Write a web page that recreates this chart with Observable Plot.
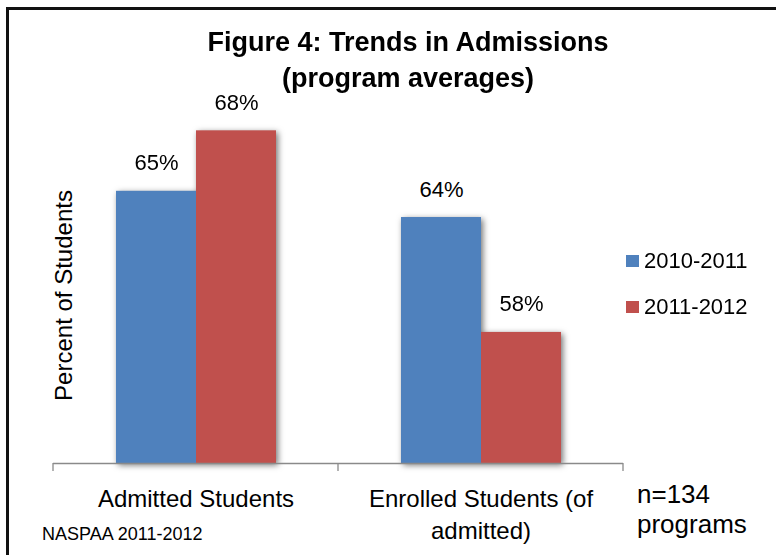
<!DOCTYPE html>
<html><head><meta charset="utf-8">
<script src="https://cdn.jsdelivr.net/npm/d3@7"></script>
<script src="https://cdn.jsdelivr.net/npm/@observablehq/plot@0.6"></script>
<style>
html,body{margin:0;padding:0;background:#fff;overflow:hidden;}
#wrap{position:relative;width:776px;height:555px;font-family:"Liberation Sans",Arial,sans-serif;color:#000;overflow:hidden;}
#wrap svg{position:absolute;left:0;top:0;}
.t{position:absolute;white-space:nowrap;}
#frame{position:absolute;left:6px;top:7px;width:820px;height:620px;border:3px solid #111;pointer-events:none;}
#title{left:0;top:24px;width:816px;text-align:center;font-weight:bold;font-size:27px;line-height:36px;}
.sw{position:absolute;width:13px;height:12px;}
.lg{font-size:22px;line-height:22px;}
#note{left:637px;top:479px;font-size:26px;line-height:30px;}
#src{left:42px;top:525px;font-size:18px;line-height:18px;}
</style></head><body>
<div id="wrap"></div>
<script>
// ---- data ----
const categories = ["Admitted Students", "Enrolled Students (of admitted)"];
const categoryLabels = ["Admitted Students", "Enrolled Students (of\nadmitted)"];
const series = ["2010-2011", "2011-2012"];
const values2010 = [65.0, 63.7];
const values2011 = [68.0, 58.0];
const colors = ["#4F81BD", "#C0504D"];
const yDomain = [51.5, 70];
const titleLines = ["Figure 4: Trends in Admissions", "(program averages)"];
const yLabel = "Percent of Students";
const noteLines = ["n=134", "programs"];
const source = "NASPAA 2011-2012";

const data = categories.flatMap((c, i) => [
  {category: c, series: series[0], value: values2010[i]},
  {category: c, series: series[1], value: values2011[i]}
]);

const font = "'Liberation Sans', Arial, sans-serif";
const axisColor = "#8a8a8a";

const plot = Plot.plot({
  width: 776, height: 555,
  marginLeft: 52, marginRight: 153, marginTop: 90, marginBottom: 92,
  style: {fontFamily: font, background: "transparent", color: "#000", overflow: "visible"},
  fx: {domain: categories, padding: 0, axis: null, label: null},
  x: {domain: series, paddingInner: 0, paddingOuter: 0.762, axis: null, label: null},
  y: {domain: yDomain, axis: null},
  color: {domain: series, range: colors},
  marks: [
    Plot.barY(data, {fx: "category", x: "series", y1: yDomain[0], y2: "value", fill: "series"}),
    Plot.ruleY([yDomain[0]], {stroke: axisColor, strokeWidth: 1.3}),
    Plot.text(data, {fx: "category", x: "series", y: "value", text: d => Math.round(d.value) + "%", dy: -28, fontSize: 22, fill: "#000"}),
    Plot.text(categories, {fx: d => d, text: (d, i) => categoryLabels[i], frameAnchor: "bottom", lineAnchor: "top", dy: 21, fontSize: 24, lineHeight: 1.333, fill: "#000"})
  ]
});

const svg = d3.select(plot);
svg.selectAll('g[aria-label="bar"]').style("filter", "drop-shadow(2px 2px 3px rgba(0,0,0,0.55))");

// boundary ticks on the category axis, from the fx and y scales
const fx = plot.scale("fx"), y = plot.scale("y");
const y0 = y.apply(yDomain[0]);
const edges = new Set();
categories.forEach(c => { const s = fx.apply(c); edges.add(s); edges.add(s + fx.bandwidth); });
const tg = svg.append("g").attr("stroke", axisColor).attr("stroke-width", 1.3);
[...edges].forEach(x => tg.append("line").attr("x1", x).attr("x2", x).attr("y1", y0).attr("y2", y0 + 8));

// y-axis title
const yr = y.range;
svg.append("text")
  .attr("transform", `translate(72,${(yr[0] + yr[1]) / 2 + 19}) rotate(-90)`)
  .attr("text-anchor", "middle").attr("font-size", 24).attr("font-family", font).attr("fill", "#000")
  .text(yLabel);

const wrap = document.getElementById("wrap");
wrap.appendChild(plot);

function div(cls, id, html, style) {
  const d = document.createElement("div");
  if (cls) d.className = cls;
  if (id) d.id = id;
  d.innerHTML = html;
  if (style) d.setAttribute("style", style);
  wrap.appendChild(d);
  return d;
}
div("t", "title", titleLines.join("<br>"));
series.forEach((s, i) => {
  div("sw", null, "", `left:626px;top:${255 + i * 46}px;background:${colors[i]};`);
  div("t lg", null, s, `left:644px;top:${250 + i * 46}px;`);
});
div("t", "note", noteLines.join("<br>"));
div("t", "src", source);
div(null, "frame", "");
</script>
</body></html>
